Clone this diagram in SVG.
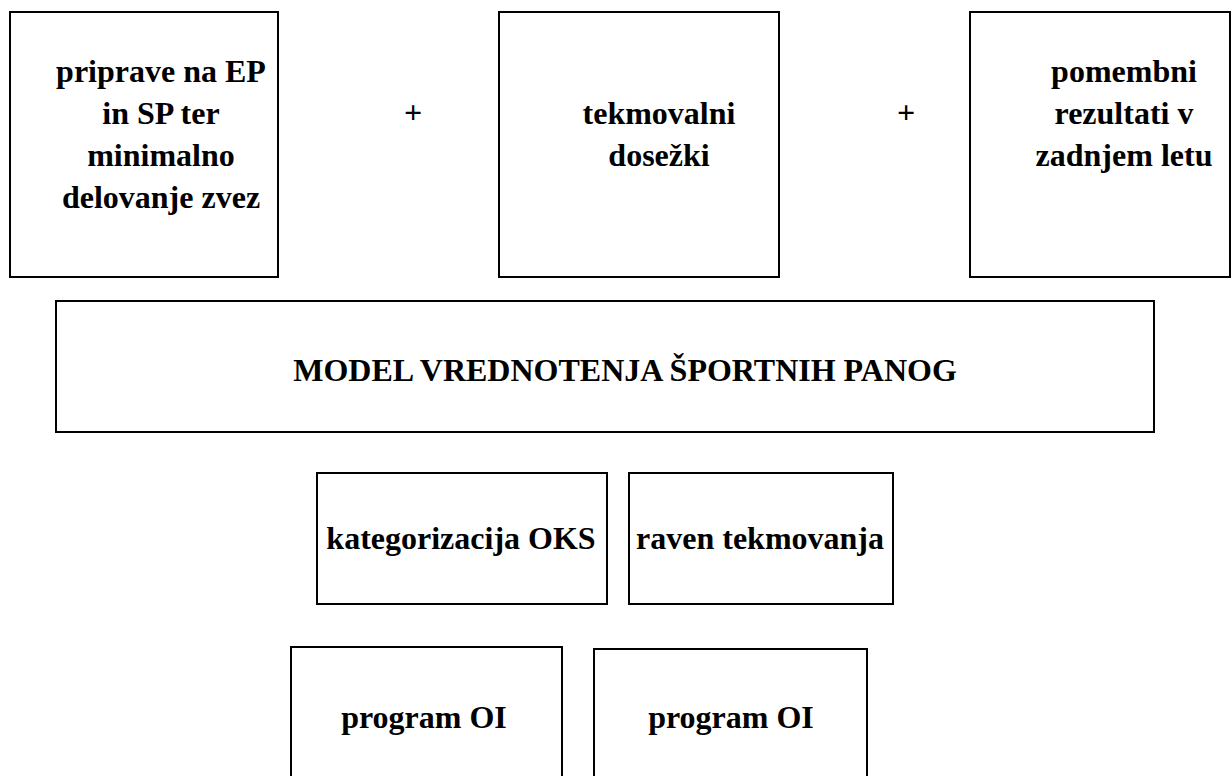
<svg xmlns="http://www.w3.org/2000/svg" width="1232" height="776" viewBox="0 0 1232 776">
<style>
.box{fill:#fff;stroke:#000;stroke-width:2}
.t{font-family:"Liberation Serif","Times New Roman",serif;font-weight:bold;font-size:32px;fill:#000;text-anchor:middle}
</style>
<rect width="1232" height="776" fill="#fff"/>
<g id="n1">
<rect class="box" x="10" y="12" width="268" height="265"/>
<text class="t" x="161" y="82">priprave na EP</text>
<text class="t" x="161" y="124">in SP ter</text>
<text class="t" x="161" y="166">minimalno</text>
<text class="t" x="161" y="208">delovanje zvez</text>
</g>
<g id="n2">
<rect class="box" x="499" y="12" width="280" height="265"/>
<text class="t" x="659" y="124">tekmovalni</text>
<text class="t" x="659" y="166">dosežki</text>
</g>
<g id="n3">
<rect class="box" x="970" y="12" width="260" height="265"/>
<text class="t" x="1124" y="82">pomembni</text>
<text class="t" x="1124" y="124">rezultati v</text>
<text class="t" x="1124" y="166">zadnjem letu</text>
</g>
<g id="plus">
<text class="t" x="413" y="123">+</text>
<text class="t" x="906" y="123">+</text>
</g>
<g id="model">
<rect class="box" x="56" y="301" width="1098" height="131"/>
<text class="t" x="625" y="381">MODEL VREDNOTENJA ŠPORTNIH PANOG</text>
</g>
<g id="kat">
<rect class="box" x="317" y="473" width="290" height="131"/>
<text class="t" x="461" y="549">kategorizacija OKS</text>
</g>
<g id="raven">
<rect class="box" x="629" y="473" width="264" height="131"/>
<text class="t" x="760" y="549">raven tekmovanja</text>
</g>
<g id="oi1">
<rect class="box" x="291" y="647" width="271" height="150"/>
<text class="t" x="424" y="728">program OI</text>
</g>
<g id="oi2">
<rect class="box" x="594" y="649" width="273" height="150"/>
<text class="t" x="731" y="728">program OI</text>
</g>
<g id="connectors"></g>
</svg>
